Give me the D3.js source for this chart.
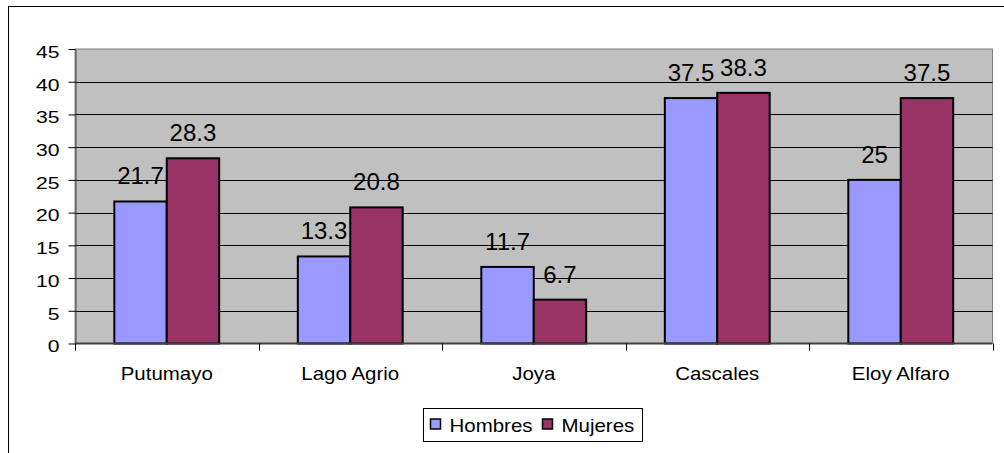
<!DOCTYPE html>
<html>
<head>
<meta charset="utf-8">
<script src="https://cdn.jsdelivr.net/npm/d3@7"></script>
<style>
  body { margin: 0; background: #fff; }
  text { font-family: Arial, "Liberation Sans", sans-serif; fill: #000; }
</style>
</head>
<body>
<div id="chart"></div>
<script>
// data
var categories = ["Putumayo", "Lago Agrio", "Joya", "Cascales", "Eloy Alfaro"];
var series = ["Hombres", "Mujeres"];
var hombres = [21.7, 13.3, 11.7, 37.5, 25];
var mujeres = [28.3, 20.8, 6.7, 38.3, 37.5];
var yTicks = [0, 5, 10, 15, 20, 25, 30, 35, 40, 45];
var colors = ["#9999FF", "#993366"];

var width = 1004, height = 453;
var plot = {left: 75, right: 992.5, top: 49, bottom: 343.5};

var svg = d3.select("#chart")
  .append("svg")
    .attr("width", width)
    .attr("height", height);

// outer chart frame (runs off the right / bottom of the window)
svg.append("rect")
  .attr("x", 8.5).attr("y", 6.5)
  .attr("width", 1010).attr("height", 460)
  .attr("fill", "none")
  .attr("stroke", "#000")
  .attr("stroke-width", 1);

var x = d3.scaleBand()
  .domain(categories)
  .range([plot.left, plot.right])
  .padding(0);

var x1 = d3.scaleBand()
  .domain(series)
  .range([0, x.bandwidth()])
  .paddingInner(0)
  .paddingOuter(0.75);

var y = d3.scaleLinear()
  .domain([0, 45])
  .range([plot.bottom, plot.top]);

// plot background
svg.append("rect")
  .attr("x", plot.left).attr("y", plot.top)
  .attr("width", plot.right - plot.left)
  .attr("height", plot.bottom - plot.top)
  .attr("fill", "#C0C0C0")
  .attr("stroke", "#808080")
  .attr("stroke-width", 1);

// gridlines
svg.append("g")
  .selectAll("line")
  .data(yTicks.filter(function(d) { return d > 0 && d < 45; }))
  .enter()
  .append("line")
    .attr("x1", plot.left).attr("x2", plot.right)
    .attr("y1", function(d) { return Math.round(y(d)) + 0.5; })
    .attr("y2", function(d) { return Math.round(y(d)) + 0.5; })
    .attr("stroke", "#000")
    .attr("stroke-width", 1);

// y axis
var yAxis = svg.append("g")
  .attr("transform", "translate(" + (plot.left + 0.5) + ",0)")
  .call(d3.axisLeft(y).tickValues(yTicks).tickSize(7).tickSizeOuter(0).tickPadding(0));
yAxis.select(".domain").attr("stroke", "#404040");
yAxis.selectAll(".tick line").attr("stroke", "#000");
yAxis.selectAll(".tick text")
  .attr("x", null)
  .attr("dy", "0.52em")
  .attr("transform", "translate(-16,0) scale(1.32,1)")
  .style("font-size", "16px")
  .style("font-family", "Arial, 'Liberation Sans', sans-serif")
  .attr("fill", "#000");

// bars
var groups = svg.append("g")
  .selectAll("g")
  .data(categories)
  .enter()
  .append("g")
    .attr("transform", function(d) { return "translate(" + x(d) + ",0)"; });

var barData = function(d, i) {
  return [
    {key: "Hombres", value: hombres[i], color: colors[0]},
    {key: "Mujeres", value: mujeres[i], color: colors[1]}
  ];
};

groups.selectAll("rect")
  .data(barData)
  .enter()
  .append("rect")
    .attr("x", function(d) { return x1(d.key); })
    .attr("y", function(d) { return y(d.value); })
    .attr("width", x1.bandwidth())
    .attr("height", function(d) { return y(0) - y(d.value); })
    .attr("fill", function(d) { return d.color; })
    .attr("stroke", "#000")
    .attr("stroke-width", 2);

// value labels
groups.selectAll("text")
  .data(barData)
  .enter()
  .append("text")
    .attr("x", function(d) { return x1(d.key) + x1.bandwidth() / 2; })
    .attr("y", function(d) { return y(d.value) - 17; })
    .attr("text-anchor", "middle")
    .style("font-size", "24px")
    .text(function(d) { return d.value; });

// x axis
var xAxis = svg.append("g")
  .attr("transform", "translate(0," + plot.bottom + ")");
xAxis.append("line")
  .attr("x1", plot.left).attr("x2", plot.right)
  .attr("stroke", "#404040")
  .attr("stroke-width", 2);
xAxis.selectAll(".cat-tick")
  .data(categories.concat([null]))
  .enter()
  .append("line")
    .attr("class", "cat-tick")
    .attr("x1", function(d, i) { return Math.round(plot.left + i * x.step()) + 0.5; })
    .attr("x2", function(d, i) { return Math.round(plot.left + i * x.step()) + 0.5; })
    .attr("y1", 0).attr("y2", 7)
    .attr("stroke", "#000");
xAxis.selectAll(".cat-label")
  .data(categories)
  .enter()
  .append("text")
    .attr("class", "cat-label")
    .attr("text-anchor", "middle")
    .attr("transform", function(d) {
      return "translate(" + (x(d) + x.bandwidth() / 2) + ",36.5) scale(1.17,1)";
    })
    .style("font-size", "17.5px")
    .text(function(d) { return d; });

// legend
var legend = svg.append("g").attr("transform", "translate(423.5,408.5)");
legend.append("rect")
  .attr("width", 219).attr("height", 33)
  .attr("fill", "#fff")
  .attr("stroke", "#000");
var legendX = [7, 119];
var items = legend.selectAll(".item")
  .data(series)
  .enter()
  .append("g")
    .attr("class", "item")
    .attr("transform", function(d, i) { return "translate(" + legendX[i] + ",0)"; });
items.append("rect")
  .attr("x", 0).attr("y", 10.5)
  .attr("width", 10).attr("height", 10)
  .attr("fill", function(d, i) { return colors[i]; })
  .attr("stroke", "#000")
  .attr("stroke-width", 1.5);
items.append("text")
  .attr("transform", "translate(19,23.5) scale(1.17,1)")
  .style("font-size", "17.5px")
  .text(function(d) { return d; });
</script>
</body>
</html>
